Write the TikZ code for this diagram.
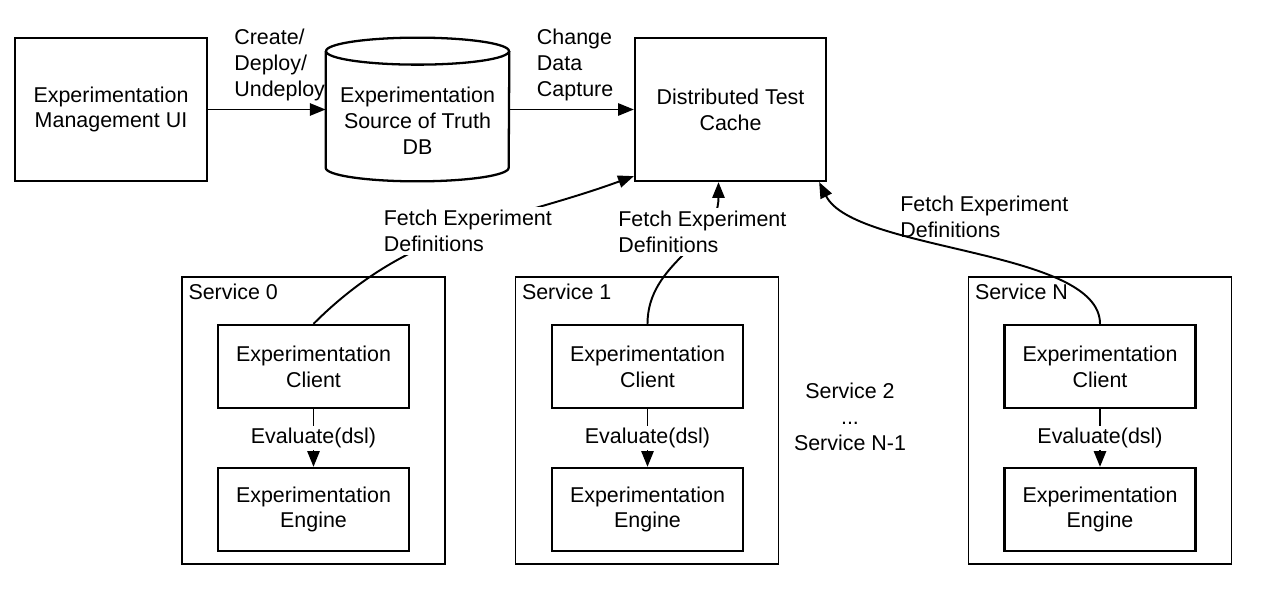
\documentclass[tikz,border=0pt]{standalone}
\usepackage{fontspec}
\setmainfont{Liberation Sans}
\usetikzlibrary{arrows.meta,positioning,calc,shapes.geometric}

\begin{document}
\begin{tikzpicture}[
      font=\fontsize{12.2}{14.7}\selectfont,
      box/.style={draw,line width=1.3pt,align=center,minimum width=3.82cm,minimum height=2.86cm},
      part/.style={draw,line width=1.3pt,align=center,minimum width=3.82cm,minimum height=1.66cm},
      service/.style={draw,line width=1pt,minimum width=5.26cm,minimum height=5.74cm},
      lbl/.style={align=left,inner sep=2pt},
      arr/.style={-{Triangle[length=9pt,width=7pt]},line width=1.1pt},
    ]
    \useasboundingbox (0,0) rectangle (25.52,11.92);
    % Top row
    \node[box,minimum width=3.84cm] (mgmt) at (2.22,9.73) {Experimentation\\ Management UI};
    \node[minimum width=3.66cm,minimum height=2.86cm,inner sep=0pt] (db) at (8.35,9.73) {};
    \draw[line width=1.3pt] ($(db.north west)+(0,-0.27)$) -- ($(db.south west)+(0,0.27)$)
        arc[start angle=180,end angle=360,x radius=1.83,y radius=0.27]
        -- ($(db.north east)+(0,-0.27)$);
    \draw[line width=1.3pt] ($(db.north)+(0,-0.27)$) ellipse[x radius=1.83,y radius=0.27];
    \node[align=center] (dbtext) at ($(db.center)+(0,-0.22)$) {Experimentation\\ Source of Truth\\ DB};
    \node[box] (cache) at (14.61,9.73) {Distributed Test\\ Cache};

    \draw[arr] (mgmt.east) -- node[pos=0.2,above right,lbl,inner sep=1pt,yshift=3.5pt] (deploy) {Create/\\ Deploy/\\ Undeploy} (db.west);
    \draw[arr] (db.east) -- node[pos=0.2,above right,lbl,inner sep=1pt,yshift=3.5pt] (cdc) {Change\\ Data\\ Capture} (cache.west);

    % Services
    \node[service] (svc0) at (6.27,3.51) {};
    \node[service] (svc1) at (12.94,3.51) {};
    \node[service] (svcN) at (22.0,3.51) {};
    \node[anchor=north west,inner sep=4pt] (svc0name) at (svc0.north west) {Service 0};
    \node[anchor=north west,inner sep=4pt] (svc1name) at (svc1.north west) {Service 1};
    \node[anchor=north west,inner sep=4pt] (svcNname) at (svcN.north west) {Service N};
    \node[align=center] (others) at (17.0,3.58) {Service 2\\ ...\\ Service N-1};

    \node[part] (client0) at (6.27,4.59) {Experimentation\\ Client};
    \node[part] (engine0) at (6.27,1.73) {Experimentation\\ Engine};
    \node[part] (client1) at (12.95,4.59) {Experimentation\\ Client};
    \node[part] (engine1) at (12.95,1.73) {Experimentation\\ Engine};
    \node[part] (clientN) at (22.0,4.59) {Experimentation\\ Client};
    \node[part] (engineN) at (22.0,1.73) {Experimentation\\ Engine};

    \draw[arr] (client0) -- node[fill=white,inner sep=1pt] (eval0) {Evaluate(dsl)} (engine0);
    \draw[arr] (client1) -- node[fill=white,inner sep=1pt] (eval1) {Evaluate(dsl)} (engine1);
    \draw[arr] (clientN) -- node[fill=white,inner sep=1pt] (evalN) {Evaluate(dsl)} (engineN);

    % Fetch
    \draw[arr] (client0.north) to[out=45,in=200] ($(cache.south west)+(0,0.12)$);
    \draw[arr] (client1.north) to[out=90,in=-90] ($(cache.south)+(-0.24,0)$);
    \draw[arr] (clientN.north) .. controls +(0,1.5) and +(0.7,-1.4) .. ($(cache.south east)+(-0.16,0)$);
    \node[lbl,fill=white,anchor=west] (fetch0) at (7.6,7.30) {Fetch Experiment\\ Definitions};
    \node[lbl,fill=white,anchor=west] (fetch1) at (12.29,7.28) {Fetch Experiment\\ Definitions};
    \node[lbl,anchor=west] (fetchN) at (17.93,7.58) {Fetch Experiment\\ Definitions};
  \end{tikzpicture}
\end{document}
